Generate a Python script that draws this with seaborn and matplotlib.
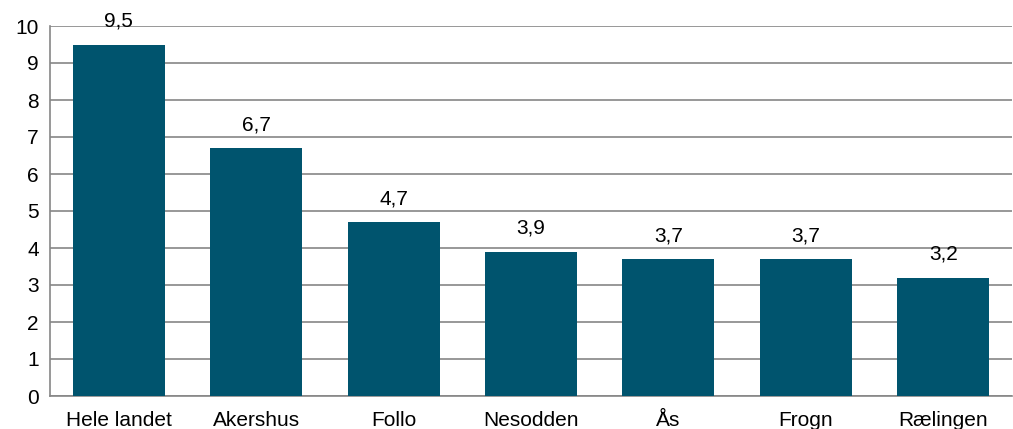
import matplotlib
matplotlib.use("Agg")
import matplotlib.pyplot as plt
import seaborn as sns
import pandas as pd

categories = ["Hele landet", "Akershus", "Follo", "Nesodden", "Ås", "Frogn", "Rælingen"]
values = [9.5, 6.7, 4.7, 3.9, 3.7, 3.7, 3.2]
y_ticks = list(range(0, 11))

sns.set_theme(style="white")
plt.rcParams["font.family"] = ["Liberation Sans", "DejaVu Sans"]

df = pd.DataFrame({"kategori": categories, "verdi": values})

fig = plt.figure(figsize=(10.13, 4.29), dpi=100)
ax = fig.add_axes([50 / 1013, 33 / 429, 1 - 50 / 1013 - 0.001, (396 - 26) / 429])

bar_color = "#00546E"
sns.barplot(data=df, x="kategori", y="verdi", color=bar_color, width=0.67,
            saturation=1, linewidth=0, ax=ax, zorder=3)

grid_color = "#868686"
fs = 15
ax.set_ylim(0, 10)
ax.set_xlim(-0.5, len(categories) - 0.5)
ax.set_yticks(y_ticks)
ax.set_yticklabels([str(t) for t in y_ticks], fontsize=fs, color="black")
ax.yaxis.grid(True, color=grid_color, linewidth=1.2, zorder=0)
ax.set_axisbelow(True)

# category ticks sit between the bars
ax.set_xticks(range(len(categories)))
ax.set_xticklabels(categories, fontsize=fs, color="black")
ax.tick_params(axis="x", which="major", length=0, pad=11)
ax.set_xticks([i - 0.5 for i in range(len(categories) + 1)], minor=True)
ax.tick_params(axis="x", which="minor", length=5, width=1.2, color=grid_color, direction="out")
ax.tick_params(axis="y", length=5, width=1.2, color=grid_color, direction="out", pad=3)

for side in ["top", "right"]:
    ax.spines[side].set_visible(False)
for side in ["left", "bottom"]:
    ax.spines[side].set_color(grid_color)
    ax.spines[side].set_linewidth(1.2)

ax.set_xlabel("")
ax.set_ylabel("")

for container in ax.containers:
    ax.bar_label(container, labels=[f"{v:.1f}".replace(".", ",") for v in values],
                 padding=10, fontsize=fs, color="black")

fig.savefig("out.png", dpi=100)
